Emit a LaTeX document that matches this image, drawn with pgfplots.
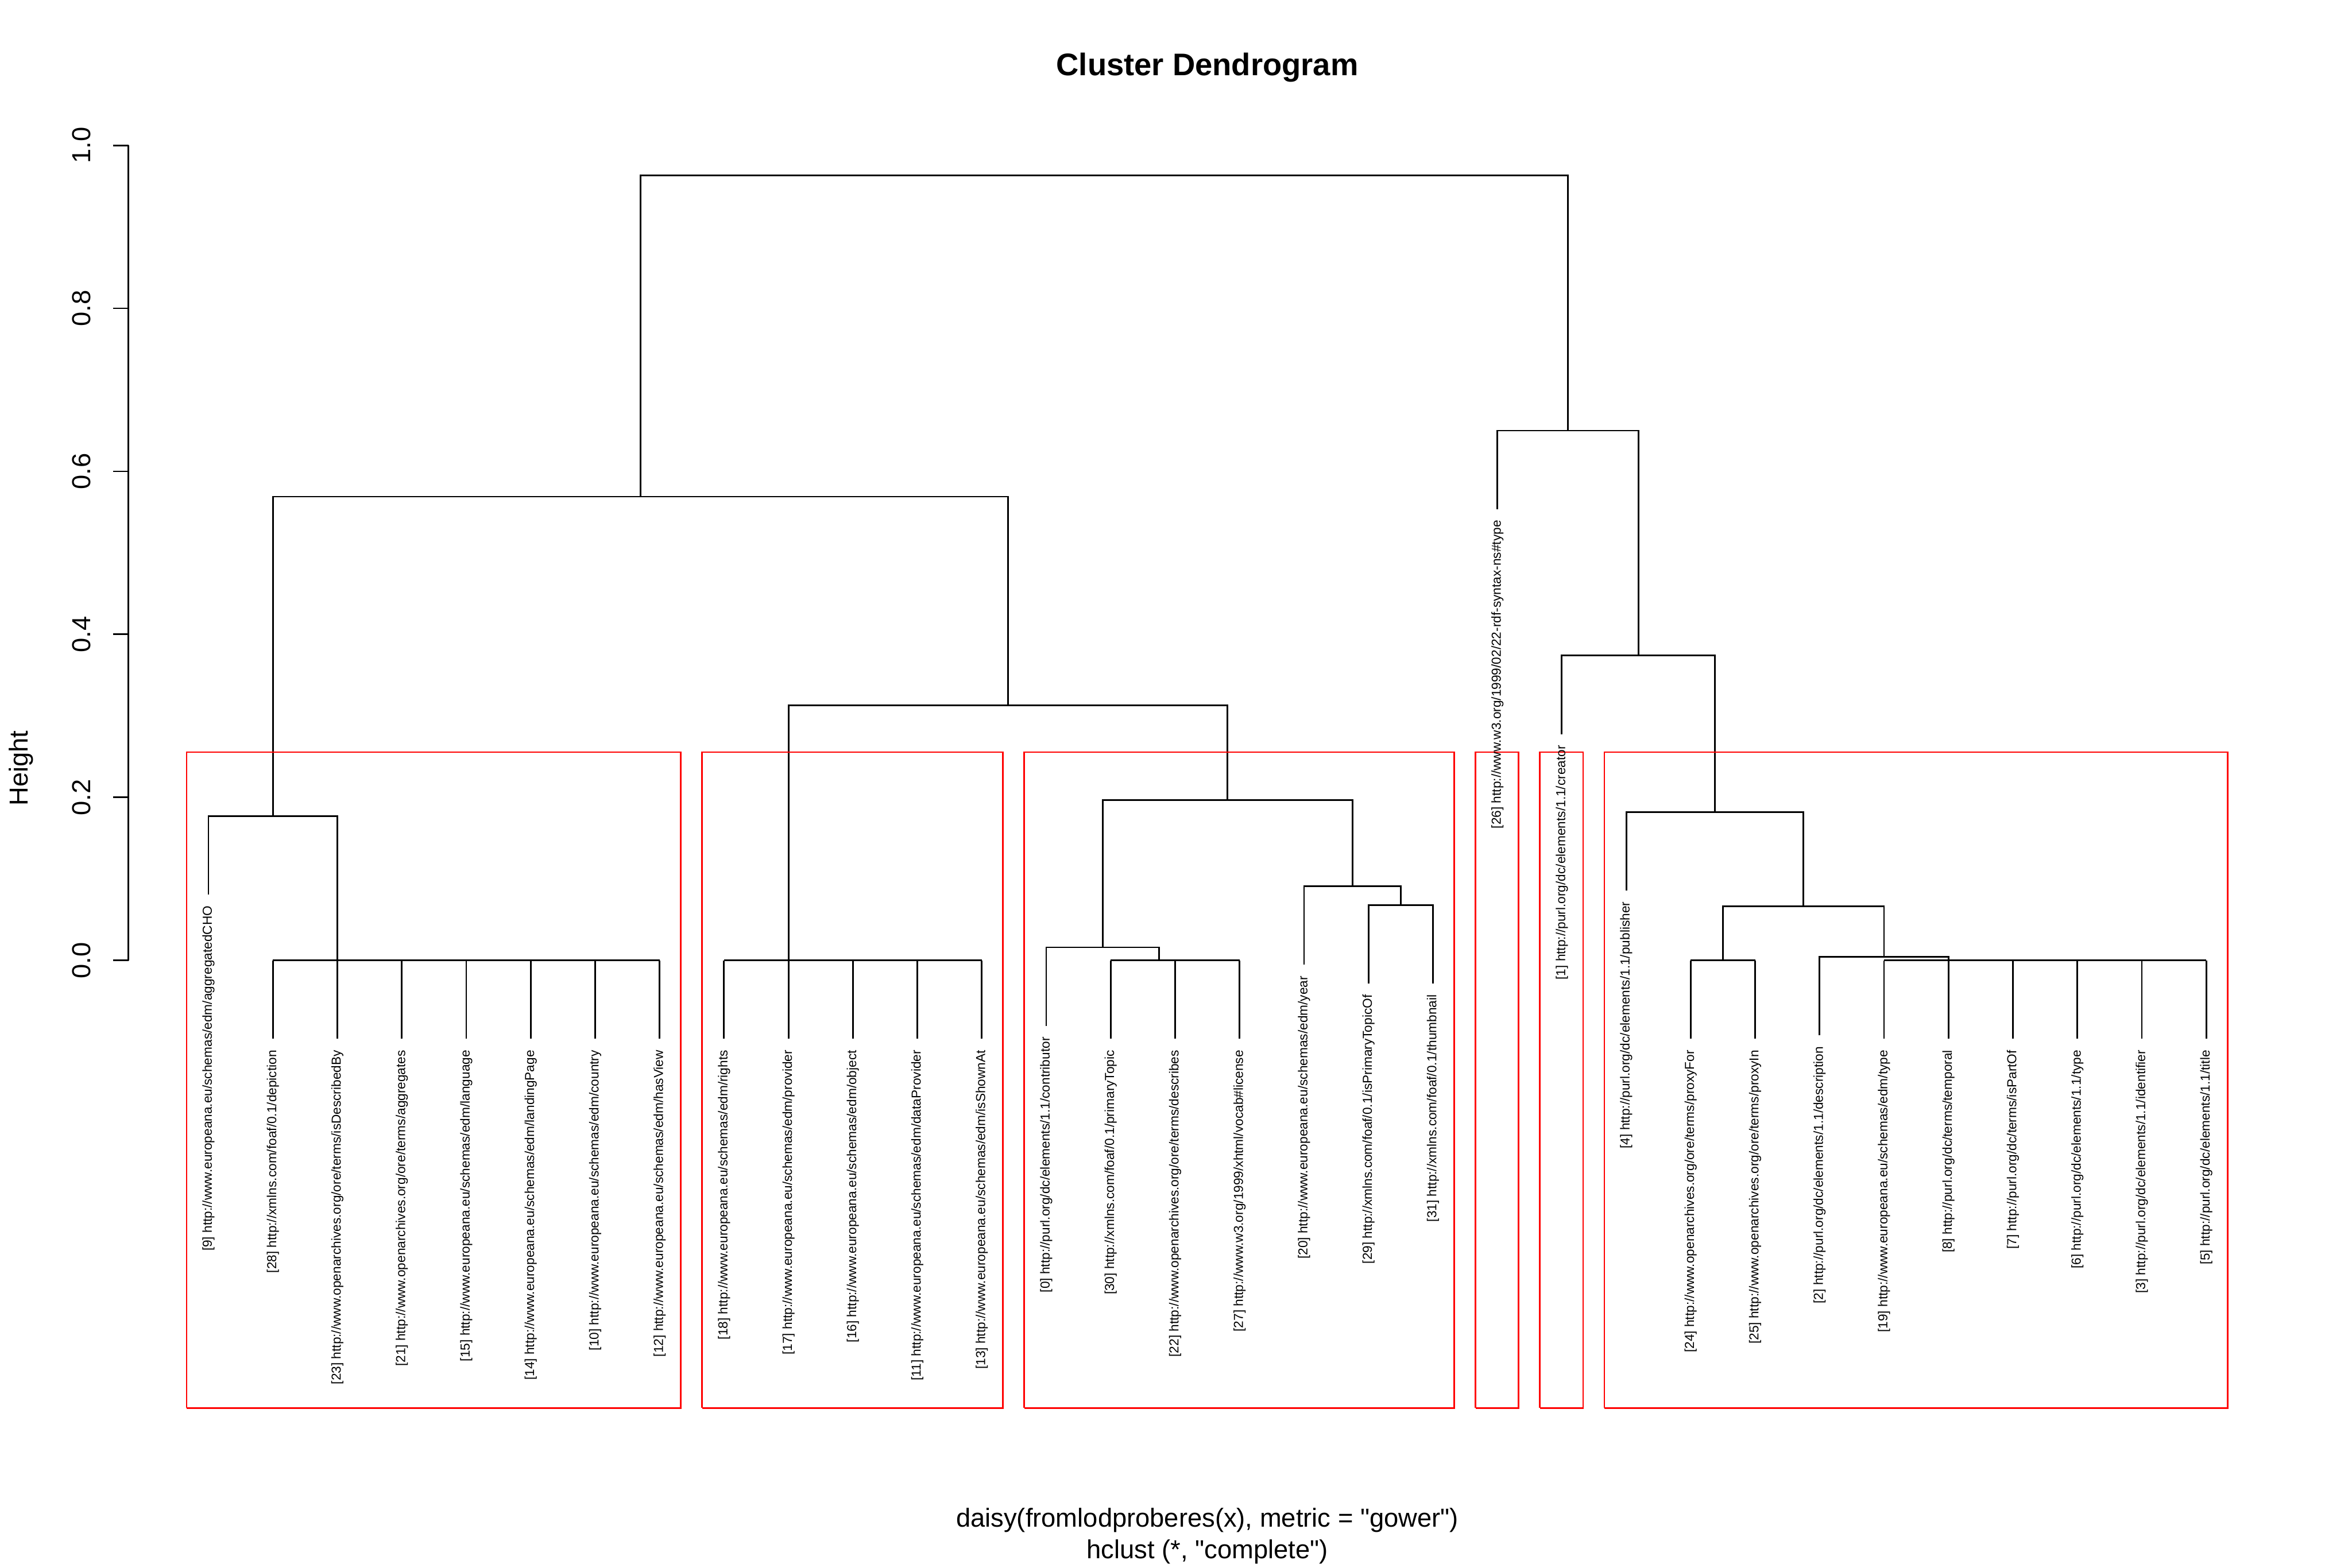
\documentclass[border=0pt]{standalone}
\usepackage{pgfplots}
\pgfplotsset{compat=1.18}
\usepackage{fontspec}
\setmainfont{Liberation Sans}[Ligatures=TeXOff]
\newcommand\leaf[3]{\node[rotate=90, anchor=east, inner xsep=5pt, inner ysep=0pt, font=\fontsize{6}{7.2}\selectfont] at (axis cs:#1,#2) {#3};}
\begin{document}
\begin{tikzpicture}[
  dend/.style={black, line width=0.75pt, mark=none},
  rbox/.style={red, line width=0.75pt, mark=none},
]
\begin{axis}[
  scale only axis, width=13.76in, height=8.16in,
  at={(0,0)}, anchor=south west,
  xmin=-0.24, xmax=33.24, ymin=-0.549, ymax=1.0206,
  axis x line=none, axis y line*=left,
  y axis line style={draw=none},
  ytick={0,0.2,0.4,0.6,0.8,1.0},
  yticklabels={0.0,0.2,0.4,0.6,0.8,1.0},
  tick align=outside, major tick length=0.1in,
  tick style={black, line width=0.75pt},
  yticklabel style={rotate=90, anchor=base, inner sep=0pt, font=\fontsize{12}{14}\selectfont},
  yticklabel shift=10.3pt,
  clip=false,
]
% y axis line
\addplot[dend] coordinates {(-0.24,0) (-0.24,1)};

% ---- cluster 1 (leaves 1..8)
\addplot[dend] coordinates {(2,0) (8,0)};
\addplot[dend] coordinates {(2,-0.0963) (2,0)};
\addplot[dend] coordinates {(3,-0.0963) (3,0)};
\addplot[dend] coordinates {(4,-0.0963) (4,0)};
\addplot[dend] coordinates {(5,-0.0963) (5,0)};
\addplot[dend] coordinates {(6,-0.0963) (6,0)};
\addplot[dend] coordinates {(7,-0.0963) (7,0)};
\addplot[dend] coordinates {(8,-0.0963) (8,0)};
\addplot[dend] coordinates {(1,0.0807) (1,0.177) (3,0.177) (3,0)};

% ---- cluster 2 (leaves 9..13)
\addplot[dend] coordinates {(9,0) (13,0)};
\addplot[dend] coordinates {(9,-0.0963) (9,0)};
\addplot[dend] coordinates {(10,-0.0963) (10,0)};
\addplot[dend] coordinates {(11,-0.0963) (11,0)};
\addplot[dend] coordinates {(12,-0.0963) (12,0)};
\addplot[dend] coordinates {(13,-0.0963) (13,0)};

% ---- cluster 3 (leaves 14..20)
\addplot[dend] coordinates {(15,0) (17,0)};
\addplot[dend] coordinates {(15,-0.0963) (15,0)};
\addplot[dend] coordinates {(16,-0.0963) (16,0)};
\addplot[dend] coordinates {(17,-0.0963) (17,0)};
\addplot[dend] coordinates {(14,-0.0803) (14,0.016) (15.75,0.016) (15.75,0)};
\addplot[dend] coordinates {(19,-0.0283) (19,0.068) (20,0.068) (20,-0.0283)};
\addplot[dend] coordinates {(18,-0.0054) (18,0.0909) (19.5,0.0909) (19.5,0.068)};
\addplot[dend] coordinates {(14.875,0.016) (14.875,0.197) (18.75,0.197) (18.75,0.0909)};

% ---- clusters 2+3, left branch
\addplot[dend] coordinates {(10,0) (10,0.313) (16.8125,0.313) (16.8125,0.197)};
\addplot[dend] coordinates {(2,0.177) (2,0.569) (13.40625,0.569) (13.40625,0.313)};

% ---- cluster 6 (leaves 23..32)
\addplot[dend] coordinates {(24,0) (25,0)};
\addplot[dend] coordinates {(24,-0.0963) (24,0)};
\addplot[dend] coordinates {(25,-0.0963) (25,0)};
\addplot[dend] coordinates {(27,0) (32,0)};
\addplot[dend] coordinates {(27,-0.0963) (27,0)};
\addplot[dend] coordinates {(28,-0.0963) (28,0)};
\addplot[dend] coordinates {(29,-0.0963) (29,0)};
\addplot[dend] coordinates {(30,-0.0963) (30,0)};
\addplot[dend] coordinates {(31,-0.0963) (31,0)};
\addplot[dend] coordinates {(32,-0.0963) (32,0)};
\addplot[dend] coordinates {(26,-0.092) (26,0.0043) (28,0.0043) (28,0)};
\addplot[dend] coordinates {(24.5,0) (24.5,0.0663) (27,0.0663) (27,0.0043)};
\addplot[dend] coordinates {(23,0.0857) (23,0.182) (25.75,0.182) (25.75,0.0663)};
\addplot[dend] coordinates {(22,0.2777) (22,0.374) (24.375,0.374) (24.375,0.182)};
\addplot[dend] coordinates {(21,0.5537) (21,0.650) (23.1875,0.650) (23.1875,0.374)};

% ---- top
\addplot[dend] coordinates {(7.703125,0.569) (7.703125,0.963) (22.09375,0.963) (22.09375,0.650)};

% ---- red rectangles (k = 6)
\addplot[rbox] coordinates {(0.66,-0.549) (8.33,-0.549) (8.33,0.2555) (0.66,0.2555) (0.66,-0.549)};
\addplot[rbox] coordinates {(8.66,-0.549) (13.33,-0.549) (13.33,0.2555) (8.66,0.2555) (8.66,-0.549)};
\addplot[rbox] coordinates {(13.66,-0.549) (20.33,-0.549) (20.33,0.2555) (13.66,0.2555) (13.66,-0.549)};
\addplot[rbox] coordinates {(20.66,-0.549) (21.33,-0.549) (21.33,0.2555) (20.66,0.2555) (20.66,-0.549)};
\addplot[rbox] coordinates {(21.66,-0.549) (22.33,-0.549) (22.33,0.2555) (21.66,0.2555) (21.66,-0.549)};
\addplot[rbox] coordinates {(22.66,-0.549) (32.33,-0.549) (32.33,0.2555) (22.66,0.2555) (22.66,-0.549)};

% ---- leaf labels
\leaf{1}{0.0807}{[9] http://www.europeana.eu/schemas/edm/aggregatedCHO}
\leaf{2}{-0.0963}{[28] http://xmlns.com/foaf/0.1/depiction}
\leaf{3}{-0.0963}{[23] http://www.openarchives.org/ore/terms/isDescribedBy}
\leaf{4}{-0.0963}{[21] http://www.openarchives.org/ore/terms/aggregates}
\leaf{5}{-0.0963}{[15] http://www.europeana.eu/schemas/edm/language}
\leaf{6}{-0.0963}{[14] http://www.europeana.eu/schemas/edm/landingPage}
\leaf{7}{-0.0963}{[10] http://www.europeana.eu/schemas/edm/country}
\leaf{8}{-0.0963}{[12] http://www.europeana.eu/schemas/edm/hasView}
\leaf{9}{-0.0963}{[18] http://www.europeana.eu/schemas/edm/rights}
\leaf{10}{-0.0963}{[17] http://www.europeana.eu/schemas/edm/provider}
\leaf{11}{-0.0963}{[16] http://www.europeana.eu/schemas/edm/object}
\leaf{12}{-0.0963}{[11] http://www.europeana.eu/schemas/edm/dataProvider}
\leaf{13}{-0.0963}{[13] http://www.europeana.eu/schemas/edm/isShownAt}
\leaf{14}{-0.0803}{[0] http://purl.org/dc/elements/1.1/contributor}
\leaf{15}{-0.0963}{[30] http://xmlns.com/foaf/0.1/primaryTopic}
\leaf{16}{-0.0963}{[22] http://www.openarchives.org/ore/terms/describes}
\leaf{17}{-0.0963}{[27] http://www.w3.org/1999/xhtml/vocab\#license}
\leaf{18}{-0.0054}{[20] http://www.europeana.eu/schemas/edm/year}
\leaf{19}{-0.0283}{[29] http://xmlns.com/foaf/0.1/isPrimaryTopicOf}
\leaf{20}{-0.0283}{[31] http://xmlns.com/foaf/0.1/thumbnail}
\leaf{21}{0.5537}{[26] http://www.w3.org/1999/02/22-rdf-syntax-ns\#type}
\leaf{22}{0.2777}{[1] http://purl.org/dc/elements/1.1/creator}
\leaf{23}{0.0857}{[4] http://purl.org/dc/elements/1.1/publisher}
\leaf{24}{-0.0963}{[24] http://www.openarchives.org/ore/terms/proxyFor}
\leaf{25}{-0.0963}{[25] http://www.openarchives.org/ore/terms/proxyIn}
\leaf{26}{-0.092}{[2] http://purl.org/dc/elements/1.1/description}
\leaf{27}{-0.0963}{[19] http://www.europeana.eu/schemas/edm/type}
\leaf{28}{-0.0963}{[8] http://purl.org/dc/terms/temporal}
\leaf{29}{-0.0963}{[7] http://purl.org/dc/terms/isPartOf}
\leaf{30}{-0.0963}{[6] http://purl.org/dc/elements/1.1/type}
\leaf{31}{-0.0963}{[3] http://purl.org/dc/elements/1.1/identifier}
\leaf{32}{-0.0963}{[5] http://purl.org/dc/elements/1.1/title}
\end{axis}
\node[anchor=base, font=\bfseries\fontsize{14.4}{17}\selectfont] at (6.88in,8.497in) {Cluster Dendrogram};
\node[anchor=base, font=\fontsize{12}{14}\selectfont] at (6.88in,-0.759in) {daisy(fromlodproberes(x), metric = "gower")};
\node[anchor=base, font=\fontsize{12}{14}\selectfont] at (6.88in,-0.959in) {hclust (*, "complete")};
\node[rotate=90, anchor=base, font=\fontsize{12}{14}\selectfont] at (-0.643in,4.08in) {Height};
\pgfresetboundingbox
\path[use as bounding box] (-0.82in,-1.02in) rectangle (14.18in,8.98in);
\end{tikzpicture}
\end{document}
